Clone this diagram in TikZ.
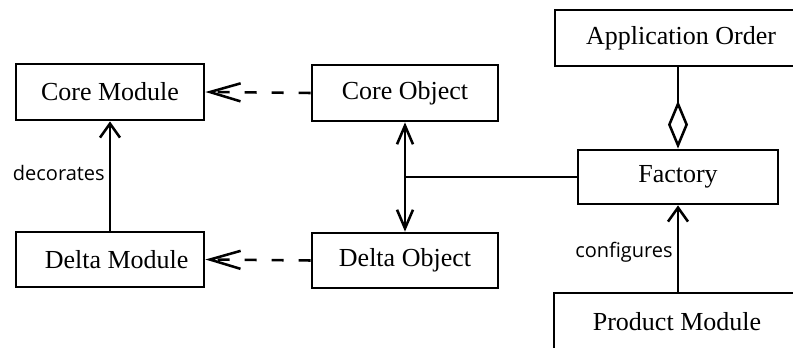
\documentclass[tikz,border=0pt]{standalone}
\usepackage{fontspec}
\setmainfont{Liberation Serif}
\newfontfamily\labelfont{Open Sans}
\usetikzlibrary{arrows.meta}

\tikzset{
  box/.style={draw, line width=2.1pt, rectangle, inner sep=0pt,
              font=\fontsize{19.5pt}{22pt}\selectfont},
  link/.style={line width=1.9pt},
  solidhead/.style={-{Straight Barb[length=10.5pt, width=15pt]}},
  dephead/.style={dash pattern=on 9pt off 11.25pt,
                  -{Straight Barb[length=23pt, width=13.5pt]}},
  edgelabel/.style={font=\labelfont\fontsize{15pt}{18pt}\selectfont, inner sep=3pt}
}

\begin{document}
\begin{tikzpicture}[x=0.75pt, y=-0.75pt]
  % canvas
  \fill[white] (0,0) rectangle (793,347);
  \useasboundingbox (0,0) rectangle (793,347);

  % classes
  \node[box, minimum width=141pt,   minimum height=42pt]    (cm)  at (110,92)    {Core Module};
  \node[box, minimum width=139.5pt, minimum height=42pt]    (co)  at (405,93)    {Core Object};
  \node[box, minimum width=141pt,   minimum height=41.25pt] (dm)  at (110,259.5) {\hspace{10pt}Delta Module};
  \node[box, minimum width=139.5pt, minimum height=41.25pt] (do)  at (405,260.5) {Delta Object};
  \node[box, minimum width=150pt,   minimum height=40.5pt]  (fac) at (678,177)   {Factory};
  \node[box, minimum width=189pt,   minimum height=42pt]    (ao)  at (681,38)    {Application Order};
  \node[box, minimum width=184.5pt, minimum height=42.75pt] (pm)  at (677,321.5) {Product Module};

  % dependencies of the objects on their modules
  \draw[link, dephead] (co.west) -- (cm.east);
  \draw[link, dephead] (do.west) -- (dm.east);

  % decoration of the core module
  \draw[link, solidhead] (dm.north) -- node[pos=0.527, left, edgelabel] {decorates} (cm.south);

  % core object <-> delta object, joined to the factory
  \draw[link, {Straight Barb[length=14pt, width=12pt]}-{Straight Barb[length=14pt, width=12pt]}]
    (co.south) -- (do.north);
  \draw[link] (fac.west) -- (fac.west -| co.south);

  % aggregation of the factory in the application order
  \draw[link, -{Diamond[open, length=36pt, width=15pt]}] (fac.north |- ao.south) -- (fac.north);

  % product module configures the factory
  \draw[link, solidhead] (fac.south |- pm.north) -- node[pos=0.46, left, edgelabel] {configures} (fac.south);
\end{tikzpicture}
\end{document}
